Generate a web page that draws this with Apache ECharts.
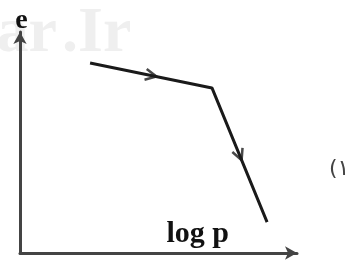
<!DOCTYPE html>
<html>
<head>
<meta charset="utf-8">
<script src="https://cdn.jsdelivr.net/npm/echarts@6/dist/echarts.min.js"></script>
<style>
  html, body { margin: 0; padding: 0; background: #fff; }
  #chart { width: 360px; height: 264px; }
</style>
</head>
<body>
<div id="chart"></div>
<script>
// e - log p curve (schematic, axes 0..10)
const logP = [2.53, 6.93, 8.92]
const voidRatio = [8.6, 7.47, 1.4]
const xName = 'log p'
const yName = 'e'
const caseLabel = '(\u06F1'

const chart = echarts.init(document.getElementById('chart'))
const serif = '"Liberation Serif", "DejaVu Serif", serif'

const linePts = logP.map((x, i) => [x, voidRatio[i]])
// arrow markers sit halfway along each segment
const mids = []
for (let i = 0; i < linePts.length - 1; i++) {
  mids.push([(linePts[i][0] + linePts[i + 1][0]) / 2, (linePts[i][1] + linePts[i + 1][1]) / 2])
}

function buildOption(rot) {
  return {
    animation: false,
    grid: { left: 20, right: 63, top: 32, bottom: 11 },
    graphic: [{
      type: 'text', right: 303, top: 2, silent: true, z: -10,
      style: { text: 'ar', fill: '#efefef', font: 'bold 64px ' + serif }
    }, {
      type: 'text', left: 62, top: 2, silent: true, z: -10,
      style: { text: '.Ir', fill: '#efefef', font: 'bold 64px ' + serif }
    }, {
      type: 'text', left: 329, top: 158,
      style: { text: caseLabel, fill: '#444', font: '22px "DejaVu Sans", sans-serif' }
    }],
    xAxis: {
      type: 'value', min: 0, max: 10,
      name: xName, nameLocation: 'middle', nameGap: -34,
      nameTextStyle: { fontFamily: serif, fontWeight: 'bold', fontSize: 30, color: '#111', align: 'left', padding: [0, 0, 0, 8] },
      axisLine: { lineStyle: { color: '#444', width: 3 }, symbol: ['none', 'arrow'], symbolSize: [10, 12], symbolOffset: [0, 0] },
      axisTick: { show: false }, axisLabel: { show: false }, splitLine: { show: false }
    },
    yAxis: {
      type: 'value', min: 0, max: 10,
      name: yName, nameGap: -3,
      nameTextStyle: { fontFamily: serif, fontWeight: 'bold', fontSize: 28, color: '#111', align: 'center', padding: [0, 0, 0, 3] },
      axisLine: { lineStyle: { color: '#444', width: 3 }, symbol: ['none', 'arrow'], symbolSize: [10, 12], symbolOffset: [0, 0] },
      axisTick: { show: false }, axisLabel: { show: false }, splitLine: { show: false }
    },
    series: [{
      type: 'line', data: linePts, symbol: 'none',
      lineStyle: { color: '#1a1a1a', width: 3 }
    }, {
      type: 'scatter',
      data: mids.map((m, i) => ({ value: m, symbolRotate: rot[i] })),
      symbol: 'path://M0,0L10,6L0,12', symbolSize: [11, 11],
      itemStyle: { color: 'rgba(0,0,0,0)', borderColor: '#1a1a1a', borderWidth: 2.5 }
    }]
  }
}

chart.setOption(buildOption(mids.map(() => 0)))
// rotate the arrow heads along each segment using the axis scales
const rot = []
for (let i = 0; i < linePts.length - 1; i++) {
  const a = chart.convertToPixel({ gridIndex: 0 }, linePts[i])
  const b = chart.convertToPixel({ gridIndex: 0 }, linePts[i + 1])
  rot.push(-Math.atan2(b[1] - a[1], b[0] - a[0]) * 180 / Math.PI)
}
chart.setOption(buildOption(rot))
</script>
</body>
</html>
